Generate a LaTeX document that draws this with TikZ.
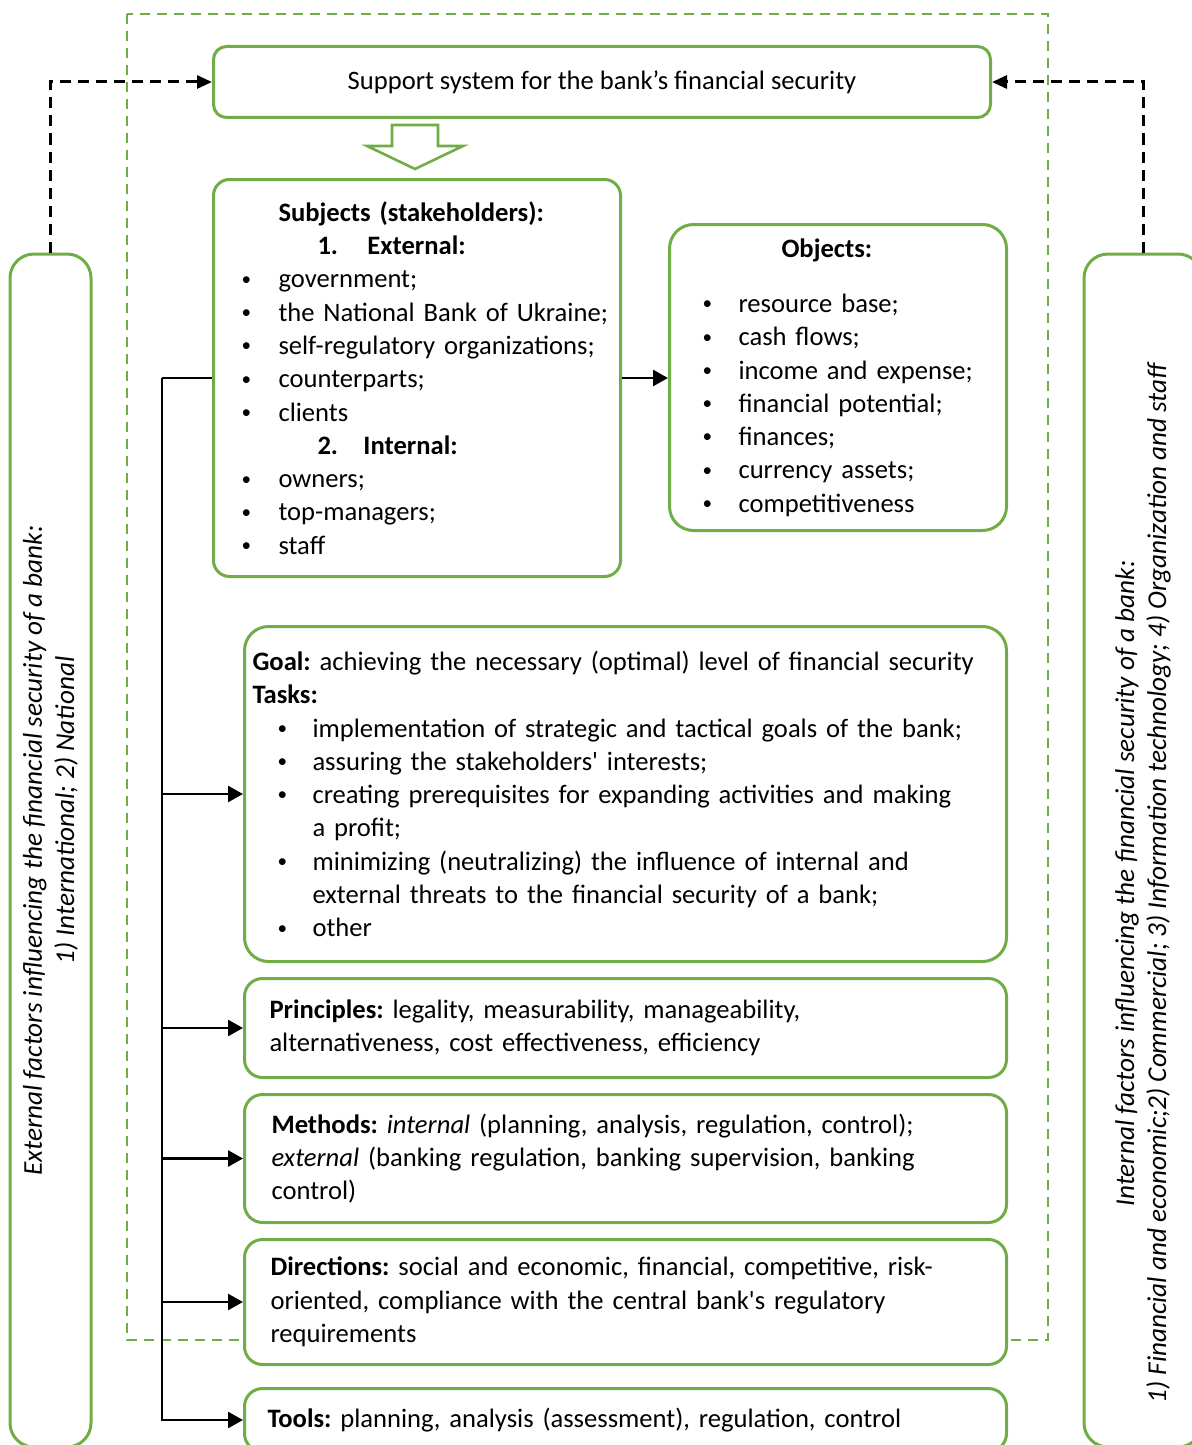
\documentclass[tikz,border=0pt]{standalone}
\usepackage{fontspec}
\setmainfont{Carlito}
\usepackage{graphicx}
\usepackage{tikz}
\usetikzlibrary{arrows.meta, positioning, calc}
\definecolor{Leaf}{RGB}{112,173,71}
\definecolor{Black}{rgb}{0.0,0.0,0.0}

\frenchspacing
\newcommand{\boxfont}{\fontsize{13.3}{16.65}\selectfont}
\newcommand{\sidefont}{\fontsize{13.6}{16.1}\selectfont\itshape}
\newcommand{\dotmark}{\raisebox{0.1em}{\scalebox{0.72}{\textbullet}}}
\newcommand{\bitem}[2][18.5pt]{\makebox[#1][l]{\dotmark}\mbox{#2}}
\newcommand{\titem}[1]{\hspace*{12.5pt}\bitem[17.5pt]{#1}}

\begin{document}
\begin{tikzpicture}[x=0.5pt, y=-0.5pt, font=\boxfont,
    box/.style={draw=Leaf, fill=white, line width=1.5pt, rounded corners=8pt,
        anchor=north west, inner ysep=0pt, align=left},
    sidebox/.style={draw=Leaf, fill=white, line width=1.5pt, rounded corners=12pt,
        rotate=90, anchor=center, align=center, font=\sidefont},
    conn/.style={Black, line width=1.3pt, -{Triangle[length=7.5pt,width=8pt]}},
    feed/.style={Black, line width=1.5pt, dash pattern=on 5.5pt off 3.5pt,
        -{Triangle[length=7.5pt,width=6.5pt]}}]

    \useasboundingbox (0,0) rectangle (1192,1445);
    \clip (0,0) rectangle (1192,1445);

    % dashed frame of the system
    \draw[Leaf, line width=1.2pt, dash pattern=on 5pt off 3.5pt] (127,14) rectangle (1048,1340);

    % top box
    \node[box, align=center, minimum width=388.5pt, minimum height=35.5pt, rounded corners=6.5pt]
        (support) at (212,45) {Support system for the bank’s financial security};

    % hollow arrow
    \draw[Leaf, line width=1.3pt, fill=white]
        (392,125) -- (438,125) -- (438,146) -- (463,146)
        -- (415,169) -- (367,146) -- (392,146) -- cycle;

    % subjects
    \node[box, minimum width=203.5pt, minimum height=198.5pt, text width=175.5pt, inner xsep=14pt]
        (subj) at (212,178) {%
        \hspace*{18.5pt}\textbf{Subjects (stakeholders):}\\
        \hspace*{38pt}\textbf{\makebox[25pt][l]{1.}External:}\\
        \bitem{government;}\\
        \bitem{the National Bank of Ukraine;}\\
        \bitem{self-regulatory organizations;}\\
        \bitem{counterparts;}\\
        \bitem{clients}\\
        \hspace*{38pt}\textbf{\makebox[23pt][l]{2.}Internal:}\\
        \bitem{owners;}\\
        \bitem{top-managers;}\\
        \bitem{staff}};

    % objects
    \node[box, rounded corners=12pt, minimum width=168.5pt, minimum height=153pt, text width=135.5pt, inner xsep=16.5pt]
        (obj) at (668,223) {%
        \hspace*{39.5pt}\textbf{Objects:}\\[11pt]
        \bitem[18pt]{resource base;}\\
        \bitem[18pt]{cash flows;}\\
        \bitem[18pt]{income and expense;}\\
        \bitem[18pt]{financial potential;}\\
        \bitem[18pt]{finances;}\\
        \bitem[18pt]{currency assets;}\\
        \bitem[18pt]{competitiveness}};

    % goal and tasks
    \node[box, rounded corners=12pt, minimum width=381pt, minimum height=167.5pt, text width=373pt, inner xsep=4pt]
        (goal) at (243,625) {%
        \mbox{\textbf{Goal:} achieving the necessary (optimal) level of financial security}\\
        \textbf{Tasks:}\\
        \titem{implementation of strategic and tactical goals of the bank;}\\
        \titem{assuring the stakeholders\textquotesingle{} interests;}\\
        \titem{creating prerequisites for expanding activities and making}\\
        \hspace*{30pt}a profit;\\
        \titem{minimizing (neutralizing) the influence of internal and}\\
        \hspace*{30pt}\mbox{external threats to the financial security of a bank;}\\
        \titem{other}};

    % principles
    \node[box, rounded corners=9pt, minimum width=381pt, minimum height=49.5pt, text width=356pt, inner xsep=12.5pt]
        (princ) at (243,977) {%
        \textbf{Principles:} legality, measurability, manageability,\\
        alternativeness, cost effectiveness, efficiency};

    % methods
    \node[box, rounded corners=9pt, minimum width=381pt, minimum height=64pt, text width=354pt, inner xsep=13.5pt]
        (meth) at (243,1093) {%
        \mbox{\textbf{Methods:} \textit{internal} (planning, analysis, regulation, control);}\\
        \mbox{\textit{external} (banking regulation, banking supervision, banking}\\
        control)};

    % directions
    \node[box, rounded corners=9pt, minimum width=381pt, minimum height=62.5pt, text width=355pt, inner xsep=13pt]
        (dir) at (243,1238) {%
        \mbox{\textbf{Directions:} social and economic, financial, competitive, risk-}\\
        \mbox{oriented, compliance with the central bank\textquotesingle s regulatory}\\
        requirements};

    % tools
    \node[box, rounded corners=9pt, minimum width=381pt, minimum height=31.5pt, text width=358pt, inner xsep=11.5pt]
        (tools) at (243,1387) {%
        \textbf{Tools:} planning, analysis (assessment), regulation, control};

    % side boxes
    \node[sidebox, minimum width=596.5pt, minimum height=40.5pt] (extf) at (50.5,850.5)
        {External factors influencing the financial security of a bank:\\
        \hspace*{40pt}1) International; 2) National};
    \node[sidebox, minimum width=596.5pt, minimum height=59pt] (intf) at (1143,850.5)
        {Internal factors influencing the financial security of a bank:\hspace*{33pt}\\
        1) Financial and economic;2) Commercial; 3) Information technology; 4) Organization and staff\hspace*{33pt}};

    % connectors
    \coordinate (trunk) at ($(subj.west)+(-50,0)$);
    \draw[Black, line width=1.3pt] (subj.west) -- (trunk);
    \foreach \n in {goal,princ,meth,dir,tools}
        \draw[conn] (trunk) |- (\n.west);
    \draw[conn] (subj.east) -- (subj.east -| obj.west);

    % influence of the factors
    \draw[feed] (extf.east) |- (support.west);
    \draw[feed] (intf.east) |- (support.east);

\end{tikzpicture}
\end{document}
